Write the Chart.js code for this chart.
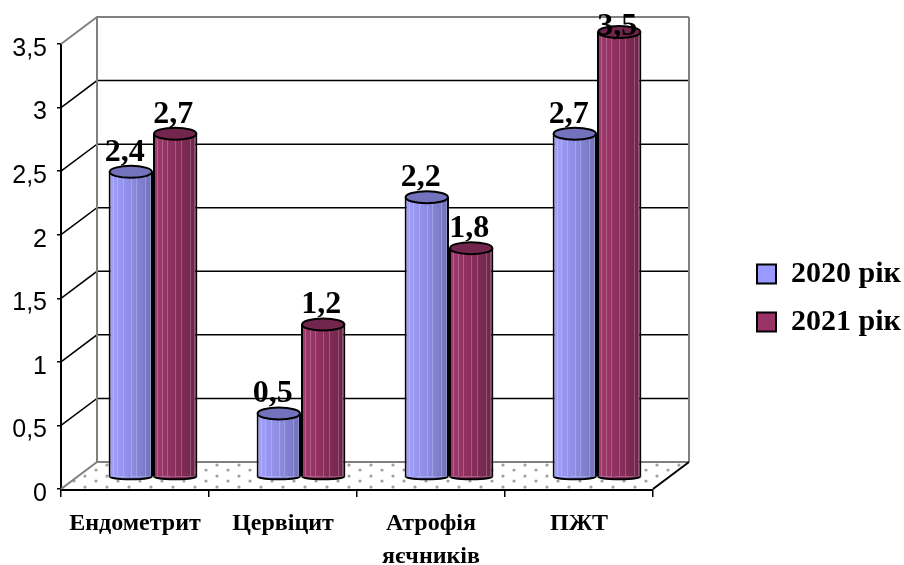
<!DOCTYPE html>
<html>
<head>
<meta charset="utf-8">
<style>
	html, body { margin: 0; background: #fff; }
	canvas { display: block; }
</style>
<script src="https://cdn.jsdelivr.net/npm/chart.js@4"></script>
</head>
<body>
<canvas id="myChart" width="904" height="565"></canvas>
<script>
const categories = ["Ендометрит", "Цервіцит", ["Атрофія", "яєчників"], "ПЖТ"];
const values2020 = [2.4, 0.5, 2.2, 2.7];
const values2021 = [2.7, 1.2, 1.8, 3.5];
const seriesNames = ["2020 рік", "2021 рік"];

const ctx = document.getElementById("myChart");

// fake 3d: how far the back wall sits from the axes, and how far in the bars stand
const wallX = 36, wallY = 27;
const barX = 18, barY = 12;
const SERIF = "'Liberation Serif', serif";

const looks = [
	{ flat: "#9999ff", light: "#a2a2ff", mid: "#8a8ae0", dark: "#7070b4", top: "#7272bd", labelDx: -6 },
	{ flat: "#993366", light: "#a33a70", mid: "#882e5b", dark: "#6b2448", top: "#72264d", labelDx: -2 },
];

function barFill(g, x0, x1, look) {
	const grad = g.createLinearGradient(x0, 0, x1, 0);
	grad.addColorStop(0, look.light);
	grad.addColorStop(0.55, look.mid);
	grad.addColorStop(1, look.dark);
	return grad;
}

function barEdges(chart, dsIndex, dataIndex) {
	const xs = chart.scales.x;
	const w = (xs.width / categories.length) * 0.3;
	const x0 = xs.getPixelForValue(dataIndex) + (dsIndex - 1) * w;
	return [x0, x0 + w];
}

function stripes(g, bar) {
	g.strokeStyle = "rgba(255,255,255,0.22)";
	g.lineWidth = 1;
	[0.1, 0.2, 0.32, 0.5, 0.62, 0.83, 0.93].forEach((f) => {
		const x = Math.round(bar.x - bar.width / 2 + bar.width * f) + 0.5;
		g.beginPath();
		g.moveTo(x, bar.y);
		g.lineTo(x, bar.base);
		g.stroke();
	});
}

const walls = {
	id: "walls",
	beforeDatasetsDraw(chart) {
		const g = chart.ctx, xs = chart.scales.x, ys = chart.scales.y;
		const l = xs.left, r = xs.right, b = ys.bottom;
		g.save();
		// dotted floor
		const tile = document.createElement("canvas");
		tile.width = 22;
		tile.height = 11;
		const t = tile.getContext("2d");
		t.fillStyle = "#fff";
		t.fillRect(0, 0, 22, 11);
		t.fillStyle = "#a0a0a0";
		t.beginPath();
		t.arc(19, 3, 1.6, 0, Math.PI * 2);
		t.arc(8, 8, 1.6, 0, Math.PI * 2);
		t.fill();
		g.fillStyle = g.createPattern(tile, "repeat");
		g.beginPath();
		g.moveTo(l, b);
		g.lineTo(l + wallX, b - wallY);
		g.lineTo(r + wallX, b - wallY);
		g.lineTo(r, b);
		g.closePath();
		g.fill();

		ys.ticks.forEach((tick) => {
			const y = ys.getPixelForValue(tick.value);
			const edge = tick.value === 0 || tick.value === ys.max;
			g.strokeStyle = edge ? "#808080" : "#000";
			g.lineWidth = edge ? 2 : 1.5;
			g.beginPath();
			g.moveTo(l, y);
			g.lineTo(l + wallX, y - wallY);
			g.lineTo(r + wallX, y - wallY);
			g.stroke();
		});
		g.strokeStyle = "#808080";
		g.lineWidth = 2;
		g.beginPath();
		g.moveTo(l + wallX, ys.top - wallY);
		g.lineTo(l + wallX, b - wallY);
		g.moveTo(r + wallX, ys.top - wallY);
		g.lineTo(r + wallX, b - wallY);
		g.stroke();
		g.strokeStyle = "#000";
		g.beginPath();
		g.moveTo(r, b);
		g.lineTo(r + wallX, b - wallY);
		g.stroke();
		g.restore();
	},
	// bars stand inside the box, so everything of a dataset is shifted
	beforeDatasetDraw(chart, args) {
		const g = chart.ctx;
		g.save();
		g.translate(barX, -barY);
		args.meta.data.forEach((bar, i) => {
			const [x0, x1] = barEdges(chart, args.index, i);
			g.fillStyle = barFill(g, x0, x1, looks[args.index]);
			g.strokeStyle = "#000";
			g.lineWidth = 2;
			g.beginPath();
			g.ellipse((x0 + x1) / 2, bar.base, (x1 - x0) / 2 - 1, 3, 0, 0, Math.PI);
			g.fill();
			g.stroke();
		});
	},
	afterDatasetDraw(chart, args) {
		const g = chart.ctx;
		args.meta.data.forEach((bar) => {
			stripes(g, bar);
			g.fillStyle = looks[args.index].top;
			g.strokeStyle = "#000";
			g.lineWidth = 2;
			g.beginPath();
			g.ellipse(bar.x, bar.y, bar.width / 2 - 1, 6, 0, 0, Math.PI * 2);
			g.fill();
			g.stroke();
		});
		g.restore();
	},
	afterDatasetsDraw(chart) {
		const g = chart.ctx;
		g.save();
		g.fillStyle = "#000";
		g.font = "bold 32px " + SERIF;
		g.textAlign = "center";
		g.textBaseline = "alphabetic";
		chart.data.datasets.forEach((ds, d) => {
			chart.getDatasetMeta(d).data.forEach((bar, i) => {
				const text = String(ds.data[i]).replace(".", ",");
				g.fillText(text, bar.x + barX + looks[d].labelDx, Math.max(bar.y - barY - 11, 35));
			});
		});
		g.restore();
	},
	// legend keeps its own drawing, it just sits further right than the layout would put it
	afterLayout(chart) {
		const lg = chart.legend;
		lg.left = 739;
		lg.right = 904;
		lg.width = 165;
		lg.top = 241;
		lg.bottom = 461;
		lg.height = 220;
	},
};

function seriesFill(c) {
	const look = looks[c.datasetIndex];
	const [x0, x1] = barEdges(c.chart, c.datasetIndex, c.dataIndex);
	// scales have no size yet on the first pass
	if (!isFinite(x0) || !isFinite(x1)) return look.flat;
	return barFill(c.chart.ctx, x0, x1, look);
}

const chart = new Chart(ctx, {
	type: "bar",
	data: {
		labels: categories,
		datasets: [
			{ label: seriesNames[0], data: values2020, backgroundColor: seriesFill },
			{ label: seriesNames[1], data: values2021, backgroundColor: seriesFill },
		],
	},
	plugins: [walls],
	options: {
		responsive: false,
		animation: false,
		layout: { padding: { top: 44, right: 131, left: 0, bottom: 0 } },
		datasets: {
			bar: {
				categoryPercentage: 0.6,
				barPercentage: 1,
				borderColor: "#000",
				borderWidth: { left: 2, right: 2, top: 0, bottom: 0 },
				borderSkipped: false,
				clip: false,
			},
		},
		plugins: {
			tooltip: { enabled: false },
			legend: {
				position: "right",
				align: "start",
				maxWidth: 120,
				labels: {
					color: "#000",
					font: { family: SERIF, size: 30, weight: "bold" },
					boxWidth: 19,
					boxHeight: 19,
					padding: 18,
					generateLabels(c) {
						const items = Chart.defaults.plugins.legend.labels.generateLabels(c);
						items.forEach((it) => {
							it.fillStyle = looks[it.datasetIndex].flat;
							it.lineWidth = 2;
							it.strokeStyle = "#000";
						});
						return items;
					},
				},
			},
		},
		scales: {
			x: {
				z: 1,
				afterFit(scale) { scale.height = 76; },
				border: { display: true, color: "#000", width: 3 },
				grid: { drawOnChartArea: false, color: "#000", lineWidth: 1.5, tickLength: 8 },
				ticks: {
					color: "#000",
					maxRotation: 0,
					autoSkip: false,
					padding: 10,
					font: { family: SERIF, size: 24, weight: "bold", lineHeight: 1.375 },
				},
			},
			y: {
				z: 1,
				min: 0,
				max: 3.5,
				afterFit(scale) { scale.width = 61; },
				border: { display: true, color: "#000", width: 2 },
				grid: { drawOnChartArea: false, color: "#000", lineWidth: 1.5, tickLength: 4 },
				ticks: {
					stepSize: 0.5,
					color: "#000",
					padding: 10,
					labelOffset: 5,
					font: { family: "'Liberation Sans', sans-serif", size: 25 },
					callback: (v) => String(v).replace(".", ","),
				},
			},
		},
	},
});
</script>
</body>
</html>
